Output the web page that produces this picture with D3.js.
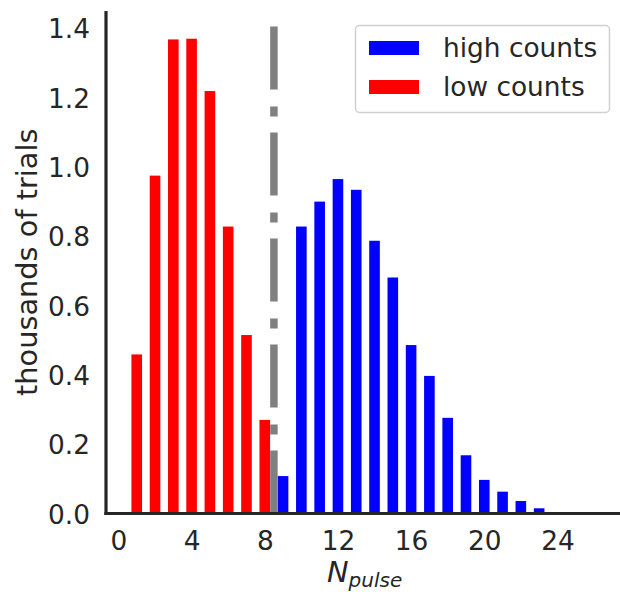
<!DOCTYPE html>
<html>
<head>
<meta charset="utf-8">
<script src="https://cdn.jsdelivr.net/npm/d3@7/dist/d3.min.js"></script>
<style>
  html, body { margin: 0; padding: 0; background: #ffffff; }
  svg { display: block; }
  text { font-family: "DejaVu Sans", sans-serif; fill: #262626; }
</style>
</head>
<body>
<svg id="chart" width="620" height="592"></svg>
<script>
// Pulse-count histograms (thousands of trials per N_pulse bin)
const lowBins  = [1, 2, 3, 4, 5, 6, 7, 8];
const lowVals  = [0.459, 0.975, 1.368, 1.370, 1.219, 0.828, 0.515, 0.270];
const highBins = [9, 10, 11, 12, 13, 14, 15, 16, 17, 18, 19, 20, 21, 22, 23];
const highVals = [0.108, 0.828, 0.900, 0.965, 0.934, 0.787, 0.681, 0.486, 0.397, 0.276, 0.168, 0.097, 0.063, 0.036, 0.015];
const xTicks = [0, 4, 8, 12, 16, 20, 24];
const yTicks = [0, 0.2, 0.4, 0.6, 0.8, 1.0, 1.2, 1.4];
const threshold = 8.5;      // decision boundary between low and high counts
const thresholdTop = 1.41;  // extent of the boundary marker
const seriesNames = ["high counts", "low counts"];
const seriesColors = ["#0000ff", "#ff0000"];

const svg = d3.select("#chart");
const plotLeft = 106, plotRight = 620, plotTop = 11, plotBottom = 513.5;
const x = d3.scaleLinear().domain([-0.68, 27.42]).range([plotLeft, plotRight]);
const y = d3.scaleLinear().domain([0, 1.45]).range([plotBottom, plotTop]);
const barW = 0.58;

function drawBars(bins, vals, color) {
  svg.append("g").selectAll("rect")
    .data(bins.map((b, i) => ({ b, v: vals[i] })))
    .join("rect")
    .attr("x", d => x(d.b - barW / 2))
    .attr("width", d => x(d.b + barW / 2) - x(d.b - barW / 2))
    .attr("y", d => y(d.v))
    .attr("height", d => y(0) - y(d.v))
    .attr("fill", color);
}
drawBars(highBins, highVals, seriesColors[0]);
drawBars(lowBins, lowVals, seriesColors[1]);

// dash-dot threshold line, drawn upward from the baseline
svg.append("line")
  .attr("x1", x(threshold)).attr("x2", x(threshold))
  .attr("y1", y(0)).attr("y2", y(thresholdTop))
  .attr("stroke", "#808080")
  .attr("stroke-width", 7.5)
  .attr("stroke-dasharray", "63,16,10,17");

// axes (tick labels only, no tick marks)
const xAxis = d3.axisBottom(x).tickValues(xTicks).tickSize(0).tickPadding(0).tickFormat(d3.format("d"));
const gx = svg.append("g").attr("transform", `translate(0,${plotBottom})`).call(xAxis);
gx.select(".domain").remove();
gx.selectAll("text")
  .attr("y", 0).attr("dy", null)
  .attr("transform", "translate(0,36.5)")
  .style("font-size", "26.4px")
  .style("font-family", "DejaVu Sans")
  .attr("fill", "#262626");

const yAxis = d3.axisLeft(y).tickValues(yTicks).tickSize(0).tickPadding(0).tickFormat(d3.format(".1f"));
const gy = svg.append("g").attr("transform", `translate(${plotLeft},0)`).call(yAxis);
gy.select(".domain").remove();
gy.selectAll("text")
  .attr("x", -16).attr("dy", "0.36em")
  .style("font-size", "26.4px")
  .style("font-family", "DejaVu Sans")
  .attr("fill", "#262626");

// spines
svg.append("line").attr("x1", plotLeft).attr("x2", plotLeft).attr("y1", plotTop).attr("y2", plotBottom + 1.5)
  .attr("stroke", "#262626").attr("stroke-width", 3.2);
svg.append("line").attr("x1", plotLeft - 1.6).attr("x2", plotRight).attr("y1", plotBottom).attr("y2", plotBottom)
  .attr("stroke", "#262626").attr("stroke-width", 3.2);

// axis labels
svg.append("text")
  .attr("transform", `translate(37,${(plotTop + plotBottom) / 2}) rotate(-90)`)
  .attr("text-anchor", "middle")
  .style("font-size", "28.8px")
  .text("thousands of trials");

const xl = svg.append("text")
  .attr("x", 327).attr("y", 582)
  .style("font-size", "28.8px")
  .style("font-style", "italic");
xl.append("tspan").text("N");
xl.append("tspan").attr("dy", 5).style("font-size", "20px").text("pulse");

// legend
const lg = svg.append("g");
lg.append("rect")
  .attr("x", 355.5).attr("y", 25.5).attr("width", 254).attr("height", 87)
  .attr("rx", 4).attr("ry", 4)
  .attr("fill", "#ffffff").attr("fill-opacity", 0.8)
  .attr("stroke", "#d0d0d0").attr("stroke-width", 1.5);
seriesNames.forEach((name, i) => {
  const cy = 48 + i * 39;
  lg.append("rect").attr("x", 369).attr("y", cy - 7).attr("width", 50).attr("height", 14)
    .attr("fill", seriesColors[i]);
  lg.append("text").attr("x", 443).attr("y", cy + 8.5)
    .style("font-size", "26.4px").text(name);
});
</script>
</body>
</html>
